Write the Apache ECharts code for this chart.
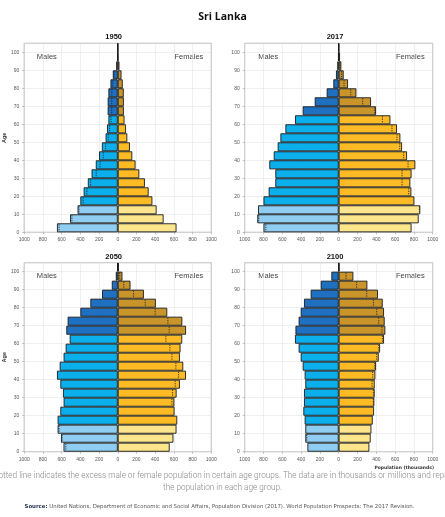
<!DOCTYPE html>
<html><head><meta charset="utf-8">
<script src="https://cdn.jsdelivr.net/npm/echarts/dist/echarts.min.js"></script>
<style>html,body{margin:0;padding:0;background:#fff}#c{width:445px;height:517px}</style>
</head><body><div id="c"></div>
<script>
const ages = ['0-4','5-9','10-14','15-19','20-24','25-29','30-34','35-39','40-44','45-49','50-54','55-59','60-64','65-69','70-74','75-79','80-84','85-89','90-94','95-99','100+'];
const years = ['1950','2017','2050','2100'];
const xTicks = [-1000,-800,-600,-400,-200,0,200,400,600,800,1000];
const male1950 = [650,510,430,400,365,320,280,235,200,170,130,115,100,108,108,100,78,53,17,4,1];
const female1950 = [628,490,415,370,330,290,230,190,155,130,102,88,72,65,65,64,53,40,18,4,1];
const male2017 = [800,866,858,800,745,674,674,738,691,649,620,567,465,383,255,128,57,29,15,5,1];
const female2017 = [775,851,868,805,773,762,775,815,727,674,656,620,550,397,344,188,99,53,28,14,3];
const male2050 = [580,607,643,643,614,579,586,614,650,621,579,557,514,550,536,400,293,168,64,21,5];
const female2050 = [555,595,628,636,607,605,629,664,729,700,664,671,689,730,690,529,407,279,136,50,12];
const male2100 = [333,355,355,362,376,369,369,355,362,383,404,426,465,460,426,404,369,298,191,78,3];
const female2100 = [326,340,348,362,376,379,383,383,390,397,426,440,482,496,489,482,468,418,305,156,8];

const maleData = [male1950, male2017, male2050, male2100];
const femaleData = [female1950, female2017, female2050, female2100];

const grids = [
  {left:23.3, top:43.3, width:188, height:189},
  {left:244.7, top:43.3, width:188, height:189},
  {left:23.3, top:262.7, width:188, height:189},
  {left:244.7, top:262.7, width:188, height:189}
];

function maleColor(i){ return i < 3 ? '#8fcdf3' : (i < 13 ? '#0bafec' : '#1f70c1'); }
function femaleColor(i){ return i < 3 ? '#fde58c' : (i < 13 ? '#fcbb25' : '#c9952b'); }

const axisLabelStyle = {fontSize:5, color:'#555', fontFamily:'Liberation Sans'};
const splitStyle = {lineStyle:{color:'#e4e4e4', width:0.6}};

const xAxis = [], yAxis = [], series = [], graphic = [];
grids.forEach((g, i) => {
  g.show = true; g.borderColor = '#8a8a8a'; g.borderWidth = 0.8; g.backgroundColor = '#fff';
  xAxis.push({
    gridIndex:i, type:'value', min:-1000, max:1000, interval:200,
    axisLabel:Object.assign({formatter:v => Math.abs(v), margin:5}, axisLabelStyle),
    axisTick:{show:true, length:2, lineStyle:{color:'#999', width:0.6}},
    axisLine:{show:false}, splitLine:splitStyle
  });
  yAxis.push({gridIndex:i, type:'category', data:ages, show:false});
  yAxis.push({
    gridIndex:i, type:'value', min:0, max:105, interval:10, position:'left',
    axisLabel:Object.assign({margin:5, showMaxLabel:false}, axisLabelStyle),
    axisTick:{show:true, length:2, lineStyle:{color:'#999', width:0.6}},
    axisLine:{show:false}, splitLine:splitStyle,
    name: i % 2 === 0 ? 'Age' : '', nameLocation:'middle', nameGap:15, nameRotate:90,
    nameTextStyle:{fontSize:5.5, fontWeight:'bold', color:'#333', fontFamily:'Liberation Sans'}
  });
  const m = maleData[i], f = femaleData[i];
  series.push({
    type:'bar', xAxisIndex:i, yAxisIndex:2*i, stack:'s'+i, barCategoryGap:'0%',
    data:m.map(v => -v), animation:false,
    itemStyle:{color:p => maleColor(p.dataIndex), borderColor:'#1a1a1a', borderWidth:0.9}
  });
  series.push({
    type:'bar', xAxisIndex:i, yAxisIndex:2*i, stack:'s'+i, barCategoryGap:'0%',
    data:f.slice(), animation:false,
    itemStyle:{color:p => femaleColor(p.dataIndex), borderColor:'#1a1a1a', borderWidth:0.9}
  });
  const dots = m.map((v, k) => [v > f[k] ? -f[k] : v, k]).filter((d, k) => Math.abs(m[k] - f[k]) >= 8);
  series.push({
    type:'custom', xAxisIndex:i, yAxisIndex:2*i, data:dots, z:5, animation:false,
    encode:{x:0, y:1},
    renderItem:(params, api) => {
      const p = api.coord([api.value(0), api.value(1)]);
      const h = api.size([0, 1])[1];
      return {type:'line', shape:{x1:p[0], y1:p[1]-h/2+1, x2:p[0], y2:p[1]+h/2-1},
        style:{stroke:'#222', lineWidth:0.9, lineDash:[1.2,1.2]}};
    }
  });
  graphic.push({type:'text', left:g.left + 94 - 12, top:g.top - 10,
    style:{text:years[i], font:'bold 7.5px "Liberation Sans"', fill:'#111', align:'center', width:24}});
  graphic.push({type:'text', x:g.left + 13.5, y:g.top + 13.5,
    style:{text:'Males', font:'7.5px "Liberation Sans"', fill:'#444', verticalAlign:'middle'}});
  graphic.push({type:'text', x:g.left + 180, y:g.top + 13.5,
    style:{text:'Females', font:'7.5px "Liberation Sans"', fill:'#444', align:'right', verticalAlign:'middle'}});
});

graphic.push({type:'text', x:222.5, y:17,
  style:{text:'Sri Lanka', font:'bold 10.5px "Open Sans"', fill:'#111', align:'center', verticalAlign:'middle'}});
graphic.push({type:'text', x:434, y:467.5,
  style:{text:'Population (thousands)', font:'bold 4.5px "DejaVu Sans"', fill:'#333', align:'right', verticalAlign:'middle'}});
graphic.push({type:'text', x:222.5, y:476,
  style:{text:'The dotted line indicates the excess male or female population in certain age groups. The data are in thousands or millions and represent', font:'300 8.2px Roboto', fill:'#888', align:'center', verticalAlign:'middle'}});
graphic.push({type:'text', x:222.5, y:487.5,
  style:{text:'the population in each age group.', font:'300 8.2px Roboto', fill:'#888', align:'center', verticalAlign:'middle'}});
graphic.push({type:'text', x:219.5, y:507,
  style:{text:'{b|Source:} United Nations, Department of Economic and Social Affairs, Population Division (2017). World Population Prospects: The 2017 Revision.',
    font:'5.4px "DejaVu Sans"', fill:'#555', align:'center', verticalAlign:'middle',
    rich:{b:{font:'bold 5.4px "DejaVu Sans"', fill:'#1a2a4a'}}}});

const chart = echarts.init(document.getElementById('c'), null, {renderer:'canvas'});
chart.setOption({animation:false, grid:grids, xAxis, yAxis, series, graphic});
</script></body></html>
